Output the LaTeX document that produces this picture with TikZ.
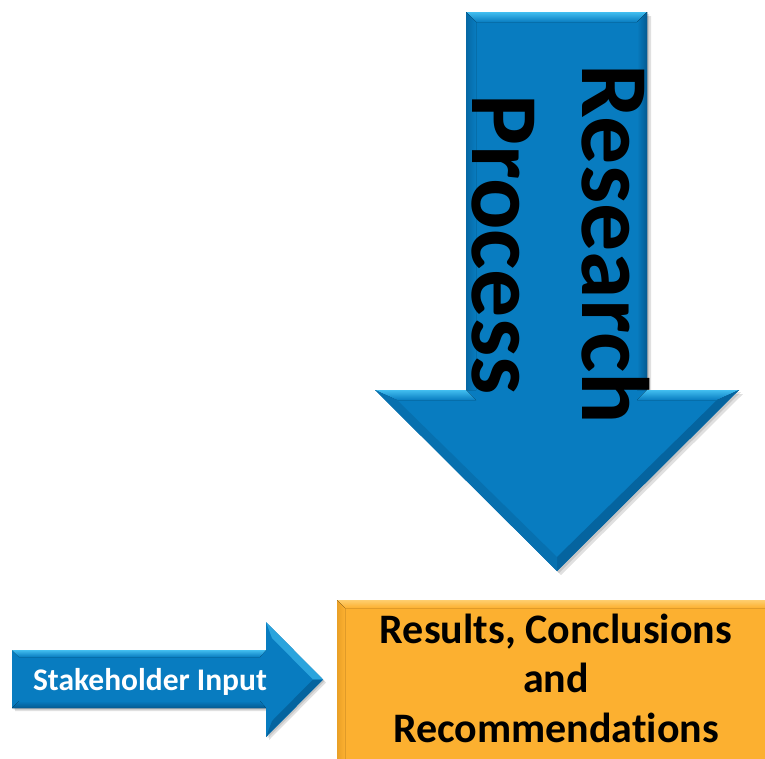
\documentclass[tikz,border=0pt]{standalone}
\usepackage{fontspec}
\setmainfont{Carlito}[Ligatures=NoCommon]
\definecolor{arrowblue}{RGB}{8,124,192}
\definecolor{bluelight}{RGB}{66,190,240}
\definecolor{bluedark}{RGB}{4,90,145}
\definecolor{boxorange}{RGB}{252,176,48}
\definecolor{orangelight}{RGB}{254,206,110}
\definecolor{orangedark}{RGB}{215,145,30}
\newcommand\bigarrowpath[1]{\fill[#1] (466,12) -- (647,12) -- (647,390) -- (739,390) -- (557,571) -- (375,390) -- (466,390) -- cycle;}
\newcommand\smallarrowpath[1]{\fill[#1] (12,650) -- (266,650) -- (266,622) -- (323,679.5) -- (266,737) -- (266,708) -- (12,708) -- cycle;}
\tikzset{
  shadowfill/.style={black,opacity=0.12},
  bigtext/.style={font=\fontsize{96}{110}\selectfont\bfseries,text=black,inner sep=0pt,rotate=-90,anchor=base},
  boxtext/.style={font=\fontsize{42}{49.5}\selectfont\bfseries,text=black,align=center,inner sep=0pt,anchor=base},
  inputtext/.style={font=\fontsize{31.5}{36}\selectfont\bfseries,text=white,inner sep=0pt,anchor=base}
}
\begin{document}
\begin{tikzpicture}[x=1pt,y=-1pt]
\useasboundingbox (0,0) rectangle (765,758);
\clip (0,0) rectangle (765,758);
% ---------- big arrow ----------
\begin{scope}[shift={(4,4)}]\bigarrowpath{shadowfill}\end{scope}
\begin{scope}[shift={(2,2)}]\bigarrowpath{shadowfill}\end{scope}
\bigarrowpath{arrowblue}
% bevels
\fill[top color=bluelight,bottom color=arrowblue] (466,12) -- (647,12) -- (637,22) -- (476,22) -- cycle;
\fill[left color=bluedark!60!arrowblue,right color=arrowblue] (466,12) -- (476,22) -- (476,390) -- (466,390) -- cycle;
\fill[left color=arrowblue,right color=bluedark] (647,12) -- (637,22) -- (637,390) -- (647,390) -- cycle;
\fill[top color=bluelight,bottom color=arrowblue] (375,390) -- (466,390) -- (476,400) -- (397,400) -- cycle;
\fill[top color=bluelight,bottom color=arrowblue] (647,390) -- (739,390) -- (717,400) -- (637,400) -- cycle;
\fill[bluedark!70!arrowblue] (739,390) -- (557,571) -- (557,557) -- (717,400) -- cycle;
\fill[bluedark!35!arrowblue] (375,390) -- (557,571) -- (557,557) -- (397,400) -- cycle;
\node[bigtext] (research) at (582,244) {Research};
\node[bigtext] (process) at (472,244.5) {Process};
% ---------- small arrow ----------
\begin{scope}[shift={(3,3)}]\smallarrowpath{shadowfill}\end{scope}
\begin{scope}[shift={(1.5,1.5)}]\smallarrowpath{shadowfill}\end{scope}
\smallarrowpath{arrowblue}
\fill[top color=bluelight,bottom color=arrowblue] (12,650) -- (266,650) -- (260,657) -- (19,657) -- cycle;
\fill[top color=arrowblue,bottom color=bluedark] (12,708) -- (266,708) -- (260,701) -- (19,701) -- cycle;
\fill[bluelight!60!arrowblue] (266,622) -- (323,679.5) -- (313,679.5) -- (272,638) -- cycle;
\fill[bluedark!70!arrowblue] (266,737) -- (323,679.5) -- (313,679.5) -- (272,721) -- cycle;
\node[inputtext] (input) at (150,690) {Stakeholder Input};
% ---------- orange box ----------
\fill[shadowfill] (340,603) rectangle (779,765);
\fill[boxorange] (337,600) rectangle (775,762);
\fill[top color=orangelight,bottom color=boxorange] (337,600) -- (775,600) -- (767,608) -- (345,608) -- cycle;
\fill[left color=orangedark!50!boxorange,right color=boxorange] (337,600) -- (345,608) -- (345,762) -- (337,762) -- cycle;
\node[boxtext] (results) at (556,742) {Results, Conclusions\\and\\Recommendations};
\end{tikzpicture}
\end{document}
